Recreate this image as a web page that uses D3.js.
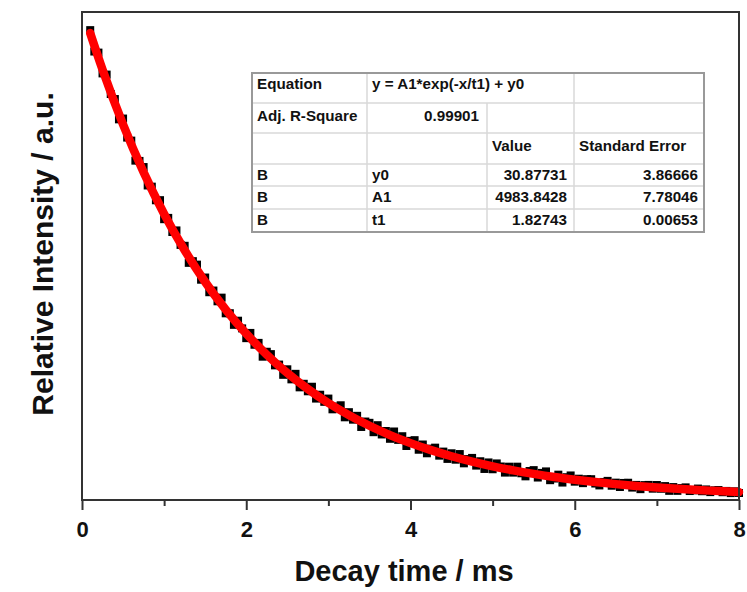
<!DOCTYPE html>
<html>
<head>
<meta charset="utf-8">
<script src="https://cdn.jsdelivr.net/npm/d3@7"></script>
<style>
  body { margin: 0; background: #fff; }
  text { font-family: "Liberation Sans", Arial, sans-serif; font-weight: bold; }
</style>
</head>
<body>
<div id="chart"></div>
<script>
// measured decay, one sample every 0.05 ms starting at 0.1 ms
var timeStart = 0.1;
var timeStep = 0.05;
var intensity = [
  4779, 4562, 4551, 4340, 4328, 4131, 4080, 3874,
  3882, 3689, 3658, 3455, 3452, 3390, 3203, 3191, 3053, 3054,
  2861, 2874, 2731, 2747, 2600, 2591, 2418, 2435, 2400, 2247,
  2269, 2120, 2137, 2028, 2065, 1906, 1907, 1789, 1831, 1753,
  1654, 1707, 1587, 1606, 1466, 1516, 1492, 1378, 1386, 1282,
  1338, 1236, 1292, 1155, 1191, 1115, 1161, 1041, 1080, 1008,
  1041, 932, 960, 973, 851, 903, 827, 866, 753, 808,
  795, 700, 771, 677, 712, 633, 707, 622, 659, 560,
  612, 619, 522, 575, 486, 533, 543, 462, 503, 429,
  486, 421, 478, 384, 427, 439, 361, 405, 327, 393,
  324, 383, 352, 290, 350, 290, 350, 283, 252, 306,
  315, 240, 287, 302, 213, 230, 269, 189, 243, 261,
  198, 228, 183, 223, 223, 179, 160, 195, 206, 157,
  188, 144, 185, 187, 138, 165, 122, 163, 165, 127,
  164, 126, 153, 105, 143, 105, 133, 140, 103, 110,
  128, 101, 119, 92, 110, 113, 91, 104, 82, 100, 83
];

// fitted curve (red)
var fitTime = [0.1, 0.25, 0.5, 0.75, 1, 1.25, 1.5, 1.75, 2, 2.25, 2.5, 2.75, 3, 3.25, 3.5, 3.75,
               4, 4.25, 4.5, 4.75, 5, 5.25, 5.5, 5.75, 6, 6.25, 6.5, 6.75, 7, 7.25, 7.5, 7.75, 8];
var fitValue = [4749, 4378, 3822, 3337, 2914, 2546, 2224, 1944, 1699, 1486, 1300, 1138, 996, 873, 765, 671,
                589, 518, 456, 401, 354, 313, 277, 245, 218, 194, 173, 155, 139, 125, 113, 103, 93];

var majorTicks = [0, 2, 4, 6, 8];
var minorTicks = [1, 3, 5, 7];

// fit report table
var fitEquation = "y = A1*exp(-x/t1) + y0";
var adjRSquare = "0.99901";
var paramGroup = ["B", "B", "B"];
var paramNames = ["y0", "A1", "t1"];
var paramValues = ["30.87731", "4983.8428", "1.82743"];
var paramErrors = ["3.86666", "7.78046", "0.00653"];

var width = 747, height = 592;
// plot box (note: "top" is taken by window.top)
var plotLeft = 82, plotRight = 739, plotTop = 12, plotBottom = 500;

var svg = d3.select("#chart").append("svg")
            .attr("width", width)
            .attr("height", height);

var x = d3.scaleLinear().domain([0, 8]).range([plotLeft, plotRight]);
var y = d3.scaleLinear().domain([12, 4963]).range([plotBottom, plotTop]);

// data squares
var sq = 8;
svg.append("g")
  .selectAll("rect")
  .data(intensity)
  .enter()
  .append("rect")
  .attr("x", function(d, i){ return x(timeStart + i * timeStep) - sq / 2; })
  .attr("y", function(d){ return y(d) - sq / 2; })
  .attr("width", sq)
  .attr("height", sq)
  .attr("fill", "#000");

// fit line
var line = d3.line()
  .x(function(d, i){ return x(fitTime[i]); })
  .y(function(d){ return y(d); })
  .curve(d3.curveMonotoneX);

svg.append("path")
  .datum(fitValue)
  .attr("d", line)
  .attr("fill", "none")
  .attr("stroke", "#ff0000")
  .attr("stroke-width", 8.5)
  .attr("stroke-linecap", "round");

// frame
svg.append("rect")
  .attr("x", plotLeft).attr("y", plotTop)
  .attr("width", plotRight - plotLeft).attr("height", plotBottom - plotTop)
  .attr("fill", "none")
  .attr("stroke", "#333")
  .attr("stroke-width", 2);

// x axis, major + minor ticks
var xAxis = svg.append("g")
  .attr("transform", "translate(0," + plotBottom + ")")
  .call(d3.axisBottom(x).tickValues(majorTicks).tickSize(10).tickPadding(11).tickFormat(d3.format("d")));
xAxis.select(".domain").remove();
xAxis.selectAll("line").attr("stroke", "#333").attr("stroke-width", 2);
xAxis.selectAll("text").attr("font-size", 22).attr("fill", "#111")
  .attr("font-family", "'Liberation Sans', Arial, sans-serif");

var xMinor = svg.append("g")
  .attr("transform", "translate(0," + plotBottom + ")")
  .call(d3.axisBottom(x).tickValues(minorTicks).tickSize(6).tickFormat(""));
xMinor.select(".domain").remove();
xMinor.selectAll("line").attr("stroke", "#333").attr("stroke-width", 2);

// axis titles
svg.append("text")
  .attr("x", 404).attr("y", 581)
  .attr("text-anchor", "middle")
  .attr("font-size", 29)
  .attr("fill", "#111")
  .text("Decay time / ms");

svg.append("text")
  .attr("transform", "translate(53,254) rotate(-90)")
  .attr("text-anchor", "middle")
  .attr("font-size", 30)
  .attr("fill", "#111")
  .text("Relative Intensity / a.u.");

// table
var colX = [252, 367, 487, 574, 704];
var rowY = [73, 103, 133, 164, 186, 209, 232];
var tb = svg.append("g").attr("font-size", 15.2).attr("fill", "#111");

tb.append("rect")
  .attr("x", colX[0]).attr("y", rowY[0])
  .attr("width", colX[4] - colX[0]).attr("height", rowY[6] - rowY[0])
  .attr("fill", "#fff");

// inner grid
rowY.slice(1, 6).forEach(function(ry){
  tb.append("line").attr("x1", colX[0]).attr("x2", colX[4]).attr("y1", ry).attr("y2", ry)
    .attr("stroke", "#d8d8d8").attr("stroke-width", 1.5);
});
tb.append("line").attr("x1", colX[1]).attr("x2", colX[1]).attr("y1", rowY[0]).attr("y2", rowY[6])
  .attr("stroke", "#d8d8d8").attr("stroke-width", 1.5);
tb.append("line").attr("x1", colX[2]).attr("x2", colX[2]).attr("y1", rowY[1]).attr("y2", rowY[6])
  .attr("stroke", "#d8d8d8").attr("stroke-width", 1.5);
tb.append("line").attr("x1", colX[3]).attr("x2", colX[3]).attr("y1", rowY[0]).attr("y2", rowY[6])
  .attr("stroke", "#d8d8d8").attr("stroke-width", 1.5);

tb.append("rect")
  .attr("x", colX[0]).attr("y", rowY[0])
  .attr("width", colX[4] - colX[0]).attr("height", rowY[6] - rowY[0])
  .attr("fill", "none")
  .attr("stroke", "#999").attr("stroke-width", 2);

function cell(txt, cx, by, anchor){
  tb.append("text").attr("x", cx).attr("y", by).attr("text-anchor", anchor || "start").text(txt);
}
cell("Equation", colX[0] + 5, 89);
cell(fitEquation, colX[1] + 5, 89);
cell("Adj. R-Square", colX[0] + 5, 121);
cell(adjRSquare, colX[2] - 8, 121, "end");
cell("Value", colX[2] + 5, 151);
cell("Standard Error", colX[3] + 5, 151);
var baseY = [180, 202, 225];
for (var i = 0; i < paramNames.length; i++) {
  cell(paramGroup[i], colX[0] + 5, baseY[i]);
  cell(paramNames[i], colX[1] + 5, baseY[i]);
  cell(paramValues[i], colX[3] - 7, baseY[i], "end");
  cell(paramErrors[i], colX[4] - 6, baseY[i], "end");
}
</script>
</body>
</html>
